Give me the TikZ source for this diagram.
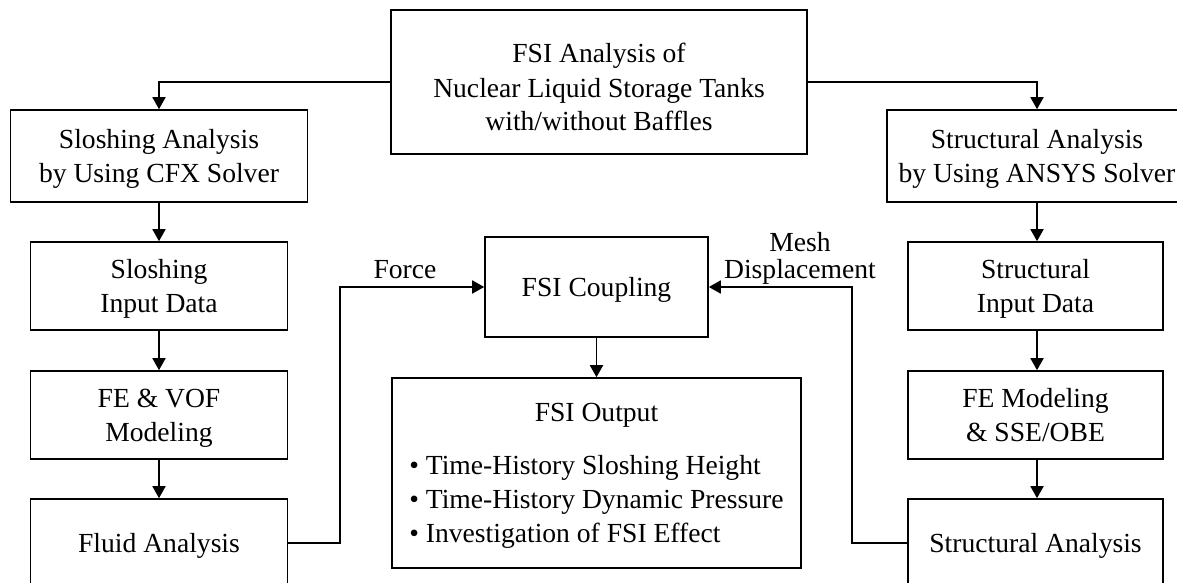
\documentclass[tikz,border=0pt]{standalone}
\usepackage{fontspec}
\setmainfont{Liberation Serif}
\usepackage{tikz}
\usetikzlibrary{arrows.meta}

\newcommand{\topstrut}{\rule{0pt}{15pt}}

\tikzset{
	stagebox/.style={draw, line width=0.8pt, align=center, inner sep=0pt, text depth=0pt},
	flowarrow/.style={-{Triangle[length=6pt,width=6.5pt]}, line width=0.9pt},
	every node/.style={font=\fontsize{13.8}{17}\selectfont},
}

\begin{document}
\begin{tikzpicture}[x=0.5pt, y=-0.5pt]
		\useasboundingbox (0,0) rectangle (1177,583);
	
		% top box
		\node[stagebox, minimum width=208pt, minimum height=72pt] (fsi) at (599,82) {\topstrut FSI Analysis of\\Nuclear Liquid Storage Tanks\\with/without Baffles};
	
		% fluid side
		\node[stagebox, minimum width=148.5pt, minimum height=46pt] (slosh) at (159,156) {Sloshing Analysis\\by Using CFX Solver};
		\node[stagebox, minimum width=128.5pt, minimum height=44pt] (sinput) at (159,286) {Sloshing\\Input Data};
		\node[stagebox, minimum width=128.5pt, minimum height=44pt] (fevof) at (159,415) {FE \& VOF\\Modeling};
		\node[stagebox, minimum width=128.5pt, minimum height=44pt] (fluid) at (159,543) {Fluid Analysis};
	
		% structure side
		\node[stagebox, minimum width=150pt, minimum height=46pt] (struct) at (1037,156) {Structural Analysis\\by Using ANSYS Solver};
		\node[stagebox, minimum width=127.5pt, minimum height=44pt] (stinput) at (1035.5,286) {Structural\\Input Data};
		\node[stagebox, minimum width=127.5pt, minimum height=44pt] (femod) at (1035.5,415) {FE Modeling\\\& SSE/OBE};
		\node[stagebox, minimum width=127.5pt, minimum height=44pt] (stanal) at (1035.5,543) {Structural Analysis};
	
		% coupling and output
		\node[stagebox, minimum width=111.5pt, minimum height=50pt] (coupling) at (596.5,287) {FSI Coupling};
		\node[stagebox, minimum width=204.5pt, minimum height=95pt] (output) at (596.5,473) {FSI Output\\[11pt]
			\begin{tabular}[b]{@{}l@{}}\textbullet\ Time-History Sloshing Height\\ \textbullet\ Time-History Dynamic Pressure\\ \textbullet\ Investigation of FSI Effect\end{tabular}};
	
		\node (forcelbl) at (405,270) {Force};
		\node[align=center, font=\fontsize{13.8}{13.5}\selectfont] (meshlbl) at (800,258) {Mesh\\Displacement};
	
		\draw[flowarrow] (fsi.west) -| (slosh.north);
		\draw[flowarrow] (fsi.east) -| (struct.north);
		\draw[flowarrow] (slosh) -- (sinput);
		\draw[flowarrow] (sinput) -- (fevof);
		\draw[flowarrow] (fevof) -- (fluid);
		\draw[flowarrow] (struct.south) -- (struct.south |- stinput.north);
		\draw[flowarrow] (stinput.south -| struct.south) -- (struct.south |- femod.north);
		\draw[flowarrow] (femod.south -| struct.south) -- (struct.south |- stanal.north);
		\draw[flowarrow] (fluid.east) -- ++(52,0) |- (coupling.west);
		\draw[flowarrow] (stanal.west) -- ++(-55,0) |- (coupling.east);
		\draw[flowarrow] (coupling) -- (output);
	\end{tikzpicture}
\end{document}
